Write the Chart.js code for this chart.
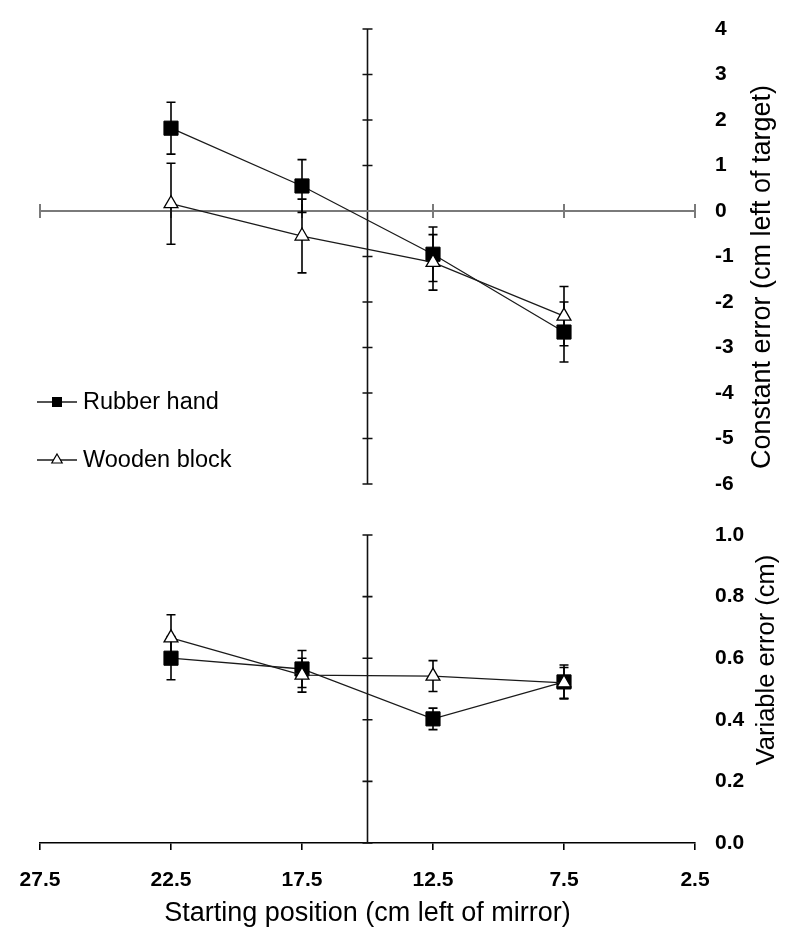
<!DOCTYPE html>
<html><head><meta charset="utf-8">
<script src="https://cdn.jsdelivr.net/npm/chart.js@4.4.1/dist/chart.umd.min.js"></script>
<style>
body{margin:0;background:#fff;width:800px;height:942px;position:relative;overflow:hidden}
canvas{position:absolute;left:0}
</style></head>
<body>
<canvas id="topChart" width="800" height="505" style="top:0"></canvas>
<canvas id="botChart" width="800" height="437" style="top:505px"></canvas>
<script>
// ---- data ----
const positions = [22.5, 17.5, 12.5, 7.5];
const xTickValues = [27.5, 22.5, 17.5, 12.5, 7.5, 2.5];
const seriesNames = ['Rubber hand', 'Wooden block'];
const rubberConstant = [1.82, 0.55, -0.95, -2.66];
const rubberConstantErr = [0.57, 0.58, 0.60, 0.66];
const woodConstant = [0.16, -0.55, -1.13, -2.31];
const woodConstantErr = [0.89, 0.81, 0.61, 0.65];
const rubberVariable = [0.60, 0.565, 0.403, 0.523];
const rubberVariableErr = [0.07, 0.06, 0.035, 0.055];
const woodVariable = [0.666, 0.545, 0.542, 0.52];
const woodVariableErr = [0.075, 0.055, 0.05, 0.05];
const constantTicks = [4, 3, 2, 1, 0, -1, -2, -3, -4, -5, -6];
const variableTicks = [1.0, 0.8, 0.6, 0.4, 0.2, 0.0];
const axisCrossX = 15;
const titles = {
  x: 'Starting position (cm left of mirror)',
  yTop: 'Constant error (cm left of target)',
  yBot: 'Variable error (cm)'
};

Chart.defaults.font.family = "'Liberation Sans', Arial, Helvetica, sans-serif";
Chart.defaults.color = '#000';
Chart.defaults.animation = false;

const pts = (vals) => positions.map((x, i) => ({x, y: vals[i]}));

function makeDatasets(rv, re, wv, we) {
  return [
    {label: seriesNames[0], data: pts(rv), errors: re, showLine: true,
     borderColor: '#1a1a1a', borderWidth: 1.3, pointStyle: 'rect', pointRadius: 10,
     pointBackgroundColor: '#000', pointBorderColor: '#000', pointBorderWidth: 1, order: 1},
    {label: seriesNames[1], data: pts(wv), errors: we, showLine: true,
     borderColor: '#1a1a1a', borderWidth: 1.3, pointStyle: 'triangle', pointRadius: 8,
     pointBackgroundColor: '#fff', pointBorderColor: '#000', pointBorderWidth: 1.3, order: 0}
  ];
}

const errorBars = {
  id: 'errorBars',
  beforeDatasetsDraw(chart) {
    const {ctx, scales: {x, y}} = chart;
    ctx.save();
    ctx.strokeStyle = '#000';
    ctx.lineWidth = 1.6;
    chart.data.datasets.forEach(ds => {
      ds.data.forEach((p, i) => {
        const e = ds.errors[i];
        const px = x.getPixelForValue(p.x);
        const y1 = y.getPixelForValue(p.y + e);
        const y2 = y.getPixelForValue(p.y - e);
        ctx.beginPath();
        ctx.moveTo(px, y1); ctx.lineTo(px, y2);
        ctx.moveTo(px - 4.5, y1); ctx.lineTo(px + 4.5, y1);
        ctx.moveTo(px - 4.5, y2); ctx.lineTo(px + 4.5, y2);
        ctx.stroke();
      });
    });
    ctx.restore();
  }
};

const crossAxes = {
  id: 'crossAxes',
  beforeDatasetsDraw(chart, args, opts) {
    const {ctx, chartArea, scales: {x, y}} = chart;
    ctx.save();
    const vx = x.getPixelForValue(axisCrossX);
    ctx.strokeStyle = '#111';
    ctx.lineWidth = 1.6;
    ctx.beginPath();
    ctx.moveTo(vx, chartArea.top); ctx.lineTo(vx, chartArea.bottom);
    y.ticks.forEach(t => {
      const py = y.getPixelForValue(t.value);
      ctx.moveTo(vx - 5, py); ctx.lineTo(vx + 5, py);
    });
    ctx.stroke();
    if (opts.hLine) {
      const hy = y.getPixelForValue(0);
      ctx.strokeStyle = '#7a7a7a';
      ctx.lineWidth = 2;
      ctx.beginPath();
      ctx.moveTo(chartArea.left, hy); ctx.lineTo(chartArea.right, hy);
      x.ticks.forEach(t => {
        const px = x.getPixelForValue(t.value);
        ctx.moveTo(px, hy - 7); ctx.lineTo(px, hy + 7);
      });
      ctx.stroke();
    }
    ctx.restore();
  }
};

const sideTitle = {
  id: 'sideTitle',
  afterDraw(chart, args, opts) {
    const {ctx} = chart;
    ctx.save();
    ctx.translate(opts.x, opts.y);
    ctx.rotate(-Math.PI / 2);
    ctx.font = opts.size + "px 'Liberation Sans', Arial, sans-serif";
    ctx.fillStyle = '#000';
    ctx.textAlign = 'center';
    ctx.textBaseline = 'middle';
    ctx.fillText(opts.text, 0, 0);
    ctx.restore();
  }
};

const insideLegend = {
  id: 'insideLegend',
  afterDraw(chart, args, opts) {
    if (!opts.show) return;
    const {ctx} = chart;
    ctx.save();
    const rows = [402, 460];
    chart.data.datasets.forEach((ds, i) => {
      const yy = rows[i];
      ctx.strokeStyle = '#1a1a1a';
      ctx.lineWidth = 1.3;
      ctx.beginPath();
      ctx.moveTo(37, yy); ctx.lineTo(77, yy);
      ctx.stroke();
      if (ds.pointStyle === 'rect') {
        ctx.fillStyle = '#000';
        ctx.fillRect(57 - 5, yy - 5, 10, 10);
      } else {
        ctx.fillStyle = '#fff';
        ctx.strokeStyle = '#000';
        ctx.lineWidth = 1.2;
        ctx.beginPath();
        ctx.moveTo(57, yy - 6); ctx.lineTo(62.2, yy + 3); ctx.lineTo(51.8, yy + 3);
        ctx.closePath(); ctx.fill(); ctx.stroke();
      }
      ctx.fillStyle = '#000';
      ctx.font = "23.5px 'Liberation Sans', Arial, sans-serif";
      ctx.textAlign = 'left';
      ctx.textBaseline = 'middle';
      ctx.fillText(ds.label, 83, yy + 1);
    });
    ctx.restore();
  }
};

function xScale(show) {
  return {
    type: 'linear', reverse: true, min: 2.5, max: 27.5, display: show,
    afterBuildTicks: s => { s.ticks = xTickValues.map(v => ({value: v})); },
    afterFit: s => { if (show) s.height = 99; s.paddingLeft = 0; s.paddingRight = 0; },
    border: {display: true, color: '#000', width: 1.6},
    grid: {drawOnChartArea: false, drawTicks: true, tickLength: 7, color: '#000', lineWidth: 1.6},
    ticks: {font: {size: 21, weight: 'bold'}, padding: 18, color: '#000', maxRotation: 0,
            callback: v => String(v)},
    title: {display: show, text: titles.x, font: {size: 27}, color: '#000', padding: {top: 0, bottom: 12}}
  };
}

function yScale(min, max, tickVals, fmt) {
  return {
    type: 'linear', position: 'right', min, max,
    afterBuildTicks: s => { s.ticks = tickVals.map(v => ({value: v})); },
    afterFit: s => { s.width = 105; s.paddingTop = 0; s.paddingBottom = 0; },
    border: {display: false},
    grid: {display: false, drawTicks: false},
    ticks: {font: {size: 21, weight: 'bold'}, padding: 20, color: '#000', callback: fmt}
  };
}

new Chart(document.getElementById('topChart'), {
  type: 'scatter',
  data: {datasets: makeDatasets(rubberConstant, rubberConstantErr, woodConstant, woodConstantErr)},
  options: {
    responsive: false,
    layout: {padding: {top: 29, left: 40, right: 0, bottom: 21}},
    scales: {x: xScale(false), y: yScale(-6, 4, constantTicks, v => String(v))},
    plugins: {legend: {display: false}, tooltip: {enabled: false},
      crossAxes: {hLine: true},
      sideTitle: {text: titles.yTop, x: 763, y: 277, size: 27},
      insideLegend: {show: true}}
  },
  plugins: [crossAxes, errorBars, sideTitle, insideLegend]
});

new Chart(document.getElementById('botChart'), {
  type: 'scatter',
  data: {datasets: makeDatasets(rubberVariable, rubberVariableErr, woodVariable, woodVariableErr)},
  options: {
    responsive: false,
    layout: {padding: {top: 30, left: 40, right: 0, bottom: 0}},
    scales: {x: xScale(true), y: yScale(0, 1, variableTicks, v => Number(v).toFixed(1))},
    plugins: {legend: {display: false}, tooltip: {enabled: false},
      crossAxes: {hLine: false},
      sideTitle: {text: titles.yBot, x: 767, y: 155, size: 25.5},
      insideLegend: {show: false}}
  },
  plugins: [crossAxes, errorBars, sideTitle, insideLegend]
});
</script>
</body></html>
